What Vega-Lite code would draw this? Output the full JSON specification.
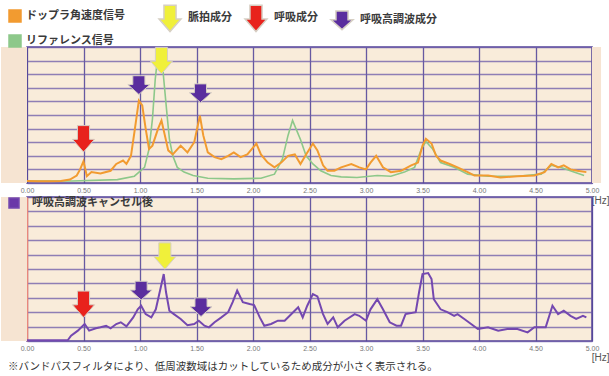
{
  "$schema": "https://vega.github.io/schema/vega-lite/v6.json",
  "background": "white",
  "padding": {"left": 0, "top": 5, "right": 0, "bottom": 0},
  "bounds": "flush",
  "spacing": 14,
  "datasets": {
    "orange": [
      {"f":0,"v":0.15,"s":"ドップラ角速度信号"},{"f":0.1,"v":0.12,"s":"ドップラ角速度信号"},{"f":0.2,"v":0.12,"s":"ドップラ角速度信号"},{"f":0.3,"v":0.15,"s":"ドップラ角速度信号"},{"f":0.38,"v":0.25,"s":"ドップラ角速度信号"},{"f":0.44,"v":0.55,"s":"ドップラ角速度信号"},{"f":0.47,"v":1.0,"s":"ドップラ角速度信号"},{"f":0.5,"v":1.6,"s":"ドップラ角速度信号"},{"f":0.53,"v":0.5,"s":"ドップラ角速度信号"},{"f":0.57,"v":0.8,"s":"ドップラ角速度信号"},{"f":0.65,"v":0.7,"s":"ドップラ角速度信号"},{"f":0.74,"v":0.9,"s":"ドップラ角速度信号"},{"f":0.79,"v":1.4,"s":"ドップラ角速度信号"},{"f":0.85,"v":1.65,"s":"ドップラ角速度信号"},{"f":0.88,"v":1.4,"s":"ドップラ角速度信号"},{"f":0.92,"v":2.0,"s":"ドップラ角速度信号"},{"f":0.95,"v":3.7,"s":"ドップラ角速度信号"},{"f":0.99,"v":6.05,"s":"ドップラ角速度信号"},{"f":1.02,"v":5.7,"s":"ドップラ角速度信号"},{"f":1.05,"v":4.0,"s":"ドップラ角速度信号"},{"f":1.08,"v":2.5,"s":"ドップラ角速度信号"},{"f":1.11,"v":2.75,"s":"ドップラ角速度信号"},{"f":1.16,"v":4.0,"s":"ドップラ角速度信号"},{"f":1.19,"v":4.6,"s":"ドップラ角速度信号"},{"f":1.22,"v":3.5,"s":"ドップラ角速度信号"},{"f":1.25,"v":2.4,"s":"ドップラ角速度信号"},{"f":1.29,"v":2.1,"s":"ドップラ角速度信号"},{"f":1.36,"v":2.75,"s":"ドップラ角速度信号"},{"f":1.42,"v":2.25,"s":"ドップラ角速度信号"},{"f":1.48,"v":3.0,"s":"ドップラ角速度信号"},{"f":1.53,"v":4.95,"s":"ドップラ角速度信号"},{"f":1.56,"v":3.5,"s":"ドップラ角速度信号"},{"f":1.6,"v":2.25,"s":"ドップラ角速度信号"},{"f":1.66,"v":1.9,"s":"ドップラ角速度信号"},{"f":1.72,"v":1.75,"s":"ドップラ角速度信号"},{"f":1.78,"v":2.0,"s":"ドップラ角速度信号"},{"f":1.83,"v":2.25,"s":"ドップラ角速度信号"},{"f":1.89,"v":1.9,"s":"ドップラ角速度信号"},{"f":1.95,"v":2.1,"s":"ドップラ角速度信号"},{"f":2.03,"v":2.9,"s":"ドップラ角速度信号"},{"f":2.07,"v":2.1,"s":"ドップラ角速度信号"},{"f":2.13,"v":1.5,"s":"ドップラ角速度信号"},{"f":2.19,"v":1.15,"s":"ドップラ角速度信号"},{"f":2.25,"v":1.5,"s":"ドップラ角速度信号"},{"f":2.31,"v":2.0,"s":"ドップラ角速度信号"},{"f":2.37,"v":2.1,"s":"ドップラ角速度信号"},{"f":2.42,"v":1.4,"s":"ドップラ角速度信号"},{"f":2.47,"v":2.1,"s":"ドップラ角速度信号"},{"f":2.53,"v":2.9,"s":"ドップラ角速度信号"},{"f":2.57,"v":2.4,"s":"ドップラ角速度信号"},{"f":2.62,"v":1.3,"s":"ドップラ角速度信号"},{"f":2.66,"v":0.9,"s":"ドップラ角速度信号"},{"f":2.72,"v":0.9,"s":"ドップラ角速度信号"},{"f":2.78,"v":1.15,"s":"ドップラ角速度信号"},{"f":2.87,"v":1.4,"s":"ドップラ角速度信号"},{"f":2.94,"v":1.15,"s":"ドップラ角速度信号"},{"f":3.0,"v":1.0,"s":"ドップラ角速度信号"},{"f":3.04,"v":1.5,"s":"ドップラ角速度信号"},{"f":3.09,"v":2.0,"s":"ドップラ角速度信号"},{"f":3.15,"v":1.15,"s":"ドップラ角速度信号"},{"f":3.22,"v":0.8,"s":"ドップラ角速度信号"},{"f":3.31,"v":0.9,"s":"ドップラ角速度信号"},{"f":3.4,"v":1.3,"s":"ドップラ角速度信号"},{"f":3.46,"v":1.5,"s":"ドップラ角速度信号"},{"f":3.5,"v":2.75,"s":"ドップラ角速度信号"},{"f":3.53,"v":3.25,"s":"ドップラ角速度信号"},{"f":3.58,"v":2.9,"s":"ドップラ角速度信号"},{"f":3.62,"v":2.0,"s":"ドップラ角速度信号"},{"f":3.66,"v":1.65,"s":"ドップラ角速度信号"},{"f":3.74,"v":1.4,"s":"ドップラ角速度信号"},{"f":3.81,"v":1.15,"s":"ドップラ角速度信号"},{"f":3.9,"v":0.8,"s":"ドップラ角速度信号"},{"f":3.96,"v":0.55,"s":"ドップラ角速度信号"},{"f":4.08,"v":0.55,"s":"ドップラ角速度信号"},{"f":4.19,"v":0.4,"s":"ドップラ角速度信号"},{"f":4.34,"v":0.5,"s":"ドップラ角速度信号"},{"f":4.49,"v":0.55,"s":"ドップラ角速度信号"},{"f":4.58,"v":0.8,"s":"ドップラ角速度信号"},{"f":4.64,"v":1.4,"s":"ドップラ角速度信号"},{"f":4.7,"v":1.15,"s":"ドップラ角速度信号"},{"f":4.75,"v":1.3,"s":"ドップラ角速度信号"},{"f":4.81,"v":1.0,"s":"ドップラ角速度信号"},{"f":4.87,"v":0.9,"s":"ドップラ角速度信号"},{"f":4.95,"v":0.8,"s":"ドップラ角速度信号"}
    ],
    "green": [
      {"f":0,"v":0.15,"s":"リファレンス信号"},{"f":0.4,"v":0.15,"s":"リファレンス信号"},{"f":0.8,"v":0.25,"s":"リファレンス信号"},{"f":0.95,"v":0.5,"s":"リファレンス信号"},{"f":1.04,"v":1.15,"s":"リファレンス信号"},{"f":1.08,"v":2.5,"s":"リファレンス信号"},{"f":1.11,"v":4.7,"s":"リファレンス信号"},{"f":1.135,"v":7.65,"s":"リファレンス信号"},{"f":1.16,"v":9.5,"s":"リファレンス信号"},{"f":1.19,"v":9.6,"s":"リファレンス信号"},{"f":1.21,"v":7.65,"s":"リファレンス信号"},{"f":1.24,"v":4.95,"s":"リファレンス信号"},{"f":1.26,"v":3.25,"s":"リファレンス信号"},{"f":1.29,"v":2.0,"s":"リファレンス信号"},{"f":1.33,"v":1.15,"s":"リファレンス信号"},{"f":1.39,"v":0.8,"s":"リファレンス信号"},{"f":1.47,"v":0.55,"s":"リファレンス信号"},{"f":1.6,"v":0.35,"s":"リファレンス信号"},{"f":1.83,"v":0.3,"s":"リファレンス信号"},{"f":2.07,"v":0.35,"s":"リファレンス信号"},{"f":2.19,"v":0.65,"s":"リファレンス信号"},{"f":2.26,"v":1.75,"s":"リファレンス信号"},{"f":2.31,"v":3.5,"s":"リファレンス信号"},{"f":2.35,"v":4.6,"s":"リファレンス信号"},{"f":2.38,"v":4.0,"s":"リファレンス信号"},{"f":2.42,"v":3.2,"s":"リファレンス信号"},{"f":2.47,"v":2.0,"s":"リファレンス信号"},{"f":2.53,"v":1.4,"s":"リファレンス信号"},{"f":2.6,"v":0.9,"s":"リファレンス信号"},{"f":2.69,"v":0.55,"s":"リファレンス信号"},{"f":2.78,"v":0.45,"s":"リファレンス信号"},{"f":2.92,"v":0.4,"s":"リファレンス信号"},{"f":3.1,"v":0.55,"s":"リファレンス信号"},{"f":3.22,"v":0.5,"s":"リファレンス信号"},{"f":3.34,"v":0.8,"s":"リファレンス信号"},{"f":3.43,"v":1.15,"s":"リファレンス信号"},{"f":3.49,"v":2.5,"s":"リファレンス信号"},{"f":3.53,"v":3.05,"s":"リファレンス信号"},{"f":3.59,"v":2.5,"s":"リファレンス信号"},{"f":3.66,"v":1.5,"s":"リファレンス信号"},{"f":3.78,"v":1.15,"s":"リファレンス信号"},{"f":3.9,"v":0.65,"s":"リファレンス信号"},{"f":4.08,"v":0.5,"s":"リファレンス信号"},{"f":4.34,"v":0.5,"s":"リファレンス信号"},{"f":4.55,"v":0.65,"s":"リファレンス信号"},{"f":4.64,"v":1.3,"s":"リファレンス信号"},{"f":4.72,"v":1.15,"s":"リファレンス信号"},{"f":4.84,"v":0.8,"s":"リファレンス信号"},{"f":4.93,"v":0.55,"s":"リファレンス信号"}
    ],
    "purple": [
      {"f":0,"v":0.05,"s":"呼吸高調波キャンセル後"},{"f":0.36,"v":0.05,"s":"呼吸高調波キャンセル後"},{"f":0.39,"v":0.37,"s":"呼吸高調波キャンセル後"},{"f":0.45,"v":0.72,"s":"呼吸高調波キャンセル後"},{"f":0.51,"v":1.18,"s":"呼吸高調波キャンセル後"},{"f":0.55,"v":0.72,"s":"呼吸高調波キャンセル後"},{"f":0.61,"v":0.88,"s":"呼吸高調波キャンセル後"},{"f":0.65,"v":0.95,"s":"呼吸高調波キャンセル後"},{"f":0.7,"v":1.06,"s":"呼吸高調波キャンセル後"},{"f":0.74,"v":0.88,"s":"呼吸高調波キャンセル後"},{"f":0.79,"v":1.18,"s":"呼吸高調波キャンセル後"},{"f":0.83,"v":1.3,"s":"呼吸高調波キャンセル後"},{"f":0.88,"v":1.02,"s":"呼吸高調波キャンセル後"},{"f":0.94,"v":1.64,"s":"呼吸高調波キャンセル後"},{"f":0.98,"v":2.2,"s":"呼吸高調波キャンセル後"},{"f":1.01,"v":2.45,"s":"呼吸高調波キャンセル後"},{"f":1.05,"v":1.87,"s":"呼吸高調波キャンセル後"},{"f":1.1,"v":1.64,"s":"呼吸高調波キャンセル後"},{"f":1.14,"v":2.2,"s":"呼吸高調波キャンセル後"},{"f":1.18,"v":3.6,"s":"呼吸高調波キャンセル後"},{"f":1.21,"v":4.65,"s":"呼吸高調波キャンセル後"},{"f":1.23,"v":3.4,"s":"呼吸高調波キャンセル後"},{"f":1.26,"v":2.1,"s":"呼吸高調波キャンセル後"},{"f":1.3,"v":1.87,"s":"呼吸高調波キャンセル後"},{"f":1.36,"v":1.53,"s":"呼吸高調波キャンセル後"},{"f":1.42,"v":1.1,"s":"呼吸高調波キャンセル後"},{"f":1.48,"v":1.18,"s":"呼吸高調波キャンセル後"},{"f":1.52,"v":1.41,"s":"呼吸高調波キャンセル後"},{"f":1.57,"v":1.06,"s":"呼吸高調波キャンセル後"},{"f":1.61,"v":0.95,"s":"呼吸高調波キャンセル後"},{"f":1.66,"v":1.3,"s":"呼吸高調波キャンセル後"},{"f":1.72,"v":1.64,"s":"呼吸高調波キャンセル後"},{"f":1.78,"v":2.0,"s":"呼吸高調波キャンセル後"},{"f":1.82,"v":2.7,"s":"呼吸高調波キャンセル後"},{"f":1.86,"v":3.5,"s":"呼吸高調波キャンセル後"},{"f":1.91,"v":2.7,"s":"呼吸高調波キャンセル後"},{"f":1.97,"v":2.57,"s":"呼吸高調波キャンセル後"},{"f":2.01,"v":2.5,"s":"呼吸高調波キャンセル後"},{"f":2.06,"v":1.64,"s":"呼吸高調波キャンセル後"},{"f":2.1,"v":1.06,"s":"呼吸高調波キャンセル後"},{"f":2.16,"v":1.18,"s":"呼吸高調波キャンセル後"},{"f":2.22,"v":1.41,"s":"呼吸高調波キャンセル後"},{"f":2.28,"v":1.41,"s":"呼吸高調波キャンセル後"},{"f":2.34,"v":1.87,"s":"呼吸高調波キャンセル後"},{"f":2.4,"v":2.34,"s":"呼吸高調波キャンセル後"},{"f":2.44,"v":1.64,"s":"呼吸高調波キャンセル後"},{"f":2.48,"v":2.45,"s":"呼吸高調波キャンセル後"},{"f":2.53,"v":3.26,"s":"呼吸高調波キャンセル後"},{"f":2.57,"v":3.1,"s":"呼吸高調波キャンセル後"},{"f":2.62,"v":1.87,"s":"呼吸高調波キャンセル後"},{"f":2.66,"v":1.18,"s":"呼吸高調波キャンセル後"},{"f":2.71,"v":1.64,"s":"呼吸高調波キャンセル後"},{"f":2.75,"v":0.95,"s":"呼吸高調波キャンセル後"},{"f":2.81,"v":1.41,"s":"呼吸高調波キャンセル後"},{"f":2.9,"v":1.87,"s":"呼吸高調波キャンセル後"},{"f":2.94,"v":1.75,"s":"呼吸高調波キャンセル後"},{"f":3.0,"v":1.41,"s":"呼吸高調波キャンセル後"},{"f":3.04,"v":2.2,"s":"呼吸高調波キャンセル後"},{"f":3.1,"v":2.9,"s":"呼吸高調波キャンセル後"},{"f":3.15,"v":2.2,"s":"呼吸高調波キャンセル後"},{"f":3.21,"v":1.3,"s":"呼吸高調波キャンセル後"},{"f":3.27,"v":1.06,"s":"呼吸高調波キャンセル後"},{"f":3.31,"v":1.06,"s":"呼吸高調波キャンセル後"},{"f":3.35,"v":1.87,"s":"呼吸高調波キャンセル後"},{"f":3.44,"v":2.0,"s":"呼吸高調波キャンセル後"},{"f":3.47,"v":3.4,"s":"呼吸高調波キャンセル後"},{"f":3.5,"v":4.65,"s":"呼吸高調波キャンセル後"},{"f":3.55,"v":4.72,"s":"呼吸高調波キャンセル後"},{"f":3.58,"v":4.3,"s":"呼吸高調波キャンセル後"},{"f":3.6,"v":2.9,"s":"呼吸高調波キャンセル後"},{"f":3.66,"v":2.2,"s":"呼吸高調波キャンセル後"},{"f":3.72,"v":2.0,"s":"呼吸高調波キャンセル後"},{"f":3.78,"v":1.75,"s":"呼吸高調波キャンセル後"},{"f":3.81,"v":1.87,"s":"呼吸高調波キャンセル後"},{"f":3.87,"v":1.53,"s":"呼吸高調波キャンセル後"},{"f":3.93,"v":1.18,"s":"呼吸高調波キャンセル後"},{"f":3.99,"v":0.83,"s":"呼吸高調波キャンセル後"},{"f":4.08,"v":0.95,"s":"呼吸高調波キャンセル後"},{"f":4.17,"v":0.72,"s":"呼吸高調波キャンセル後"},{"f":4.25,"v":0.83,"s":"呼吸高調波キャンセル後"},{"f":4.34,"v":0.83,"s":"呼吸高調波キャンセル後"},{"f":4.43,"v":0.6,"s":"呼吸高調波キャンセル後"},{"f":4.49,"v":0.95,"s":"呼吸高調波キャンセル後"},{"f":4.59,"v":0.95,"s":"呼吸高調波キャンセル後"},{"f":4.65,"v":2.45,"s":"呼吸高調波キャンセル後"},{"f":4.7,"v":1.87,"s":"呼吸高調波キャンセル後"},{"f":4.75,"v":2.1,"s":"呼吸高調波キャンセル後"},{"f":4.81,"v":1.75,"s":"呼吸高調波キャンセル後"},{"f":4.86,"v":1.53,"s":"呼吸高調波キャンセル後"},{"f":4.92,"v":1.75,"s":"呼吸高調波キャンセル後"},{"f":4.95,"v":1.64,"s":"呼吸高調波キャンセル後"}
    ],
    "arrowsTop": [
      {"f":0.5,"v":3.25,"c":"呼吸成分"},
      {"f":0.99,"v":7.2,"c":"呼吸高調波成分"},
      {"f":1.19,"v":9.0,"c":"脈拍成分"},
      {"f":1.535,"v":6.6,"c":"呼吸高調波成分"}
    ],
    "arrowsBottom": [
      {"f":0.5,"v":2.55,"c":"呼吸成分"},
      {"f":1.01,"v":3.5,"c":"呼吸高調波成分"},
      {"f":1.22,"v":5.9,"c":"脈拍成分"},
      {"f":1.54,"v":2.35,"c":"呼吸高調波成分"}
    ]
  },
  "vconcat": [
    {
      "width": 565,
      "height": 136,
      "layer": [
        {
          "data": {"values": [{}]},
          "mark": {"type": "rect", "fill": "#f6e4d2", "clip": false},
          "encoding": {
            "x": {"datum": -0.2301, "type": "quantitative", "scale": {"domain": [0, 5], "nice": false, "zero": false},
              "axis": {"values": [0, 0.5, 1, 1.5, 2, 2.5, 3, 3.5, 4, 4.5, 5], "tickCount": 20, "format": ".2f", "grid": true, "labelFlush": false, "labelOverlap": false, "title": "[Hz]", "titleX": 582, "titleY": 17, "titleAlign": "right", "titleBaseline": "middle"}},
            "x2": {"datum": 0},
            "y": {"datum": 0, "type": "quantitative", "scale": {"domain": [0, 10], "nice": false, "zero": false},
              "axis": {"values": [0, 1, 2, 3, 4, 5, 6, 7, 8, 9, 10], "tickCount": 20, "labels": false, "ticks": false, "domain": false, "grid": true, "gridColor": "#6a5aa8", "gridOpacity": 0.75, "title": null}},
            "y2": {"datum": 10}
          }
        },
        {
          "data": {"values": [{}]},
          "mark": {"type": "rect", "fill": "#f6e4d2", "clip": false},
          "encoding": {
            "x": {"datum": 5, "type": "quantitative", "scale": {"domain": [0, 5], "nice": false, "zero": false}},
            "x2": {"datum": 5.08},
            "y": {"datum": 0, "type": "quantitative", "scale": {"domain": [0, 10], "nice": false, "zero": false}},
            "y2": {"datum": 10}
          }
        },
        {
          "layer": [
            {
              "data": {"name": "green"},
              "mark": {"type": "line", "strokeWidth": 1.6},
              "encoding": {
                "x": {"field": "f", "type": "quantitative", "scale": {"domain": [0, 5], "nice": false, "zero": false},
                  "axis": {"values": [0, 0.5, 1, 1.5, 2, 2.5, 3, 3.5, 4, 4.5, 5], "tickCount": 20, "format": ".2f", "grid": true, "labelFlush": false, "labelOverlap": false, "title": "[Hz]", "titleX": 582, "titleY": 17, "titleAlign": "right", "titleBaseline": "middle"}},
                "y": {"field": "v", "type": "quantitative", "scale": {"domain": [0, 10], "nice": false, "zero": false},
                  "axis": {"values": [0, 1, 2, 3, 4, 5, 6, 7, 8, 9, 10], "tickCount": 20, "labels": false, "ticks": false, "domain": false, "grid": true, "gridColor": "#6a5aa8", "gridOpacity": 0.75, "title": null}},
                "color": {"field": "s", "type": "nominal",
                  "scale": {"domain": ["ドップラ角速度信号", "リファレンス信号"], "range": ["#f29b30", "#8dc88a"]},
                  "legend": {"title": null, "orient": "none", "legendX": -19, "legendY": -38, "direction": "vertical", "symbolType": "square", "symbolSize": 144, "rowPadding": 7, "labelOffset": 4,
                    "encode": {"symbols": {"update": {"fill": {"signal": "datum.value === 'ドップラ角速度信号' ? '#f29b30' : '#8dc88a'"}, "stroke": {"value": "transparent"}}}}}
                }
              }
            },
            {
              "data": {"name": "orange"},
              "mark": {"type": "line", "strokeWidth": 2},
              "encoding": {
                "x": {"field": "f", "type": "quantitative", "scale": {"domain": [0, 5], "nice": false, "zero": false}},
                "y": {"field": "v", "type": "quantitative", "scale": {"domain": [0, 10], "nice": false, "zero": false}},
                "color": {"field": "s", "type": "nominal",
                  "scale": {"domain": ["ドップラ角速度信号", "リファレンス信号"], "range": ["#f29b30", "#8dc88a"]}}
              }
            }
          ]
        },
        {
          "data": {"name": "arrowsTop"},
          "mark": {"type": "point", "filled": true, "opacity": 1, "size": 484, "stroke": "#d6cfc4", "strokeWidth": 1},
          "encoding": {
            "x": {"field": "f", "type": "quantitative", "scale": {"domain": [0, 5], "nice": false, "zero": false}},
            "y": {"field": "v", "type": "quantitative", "scale": {"domain": [0, 10], "nice": false, "zero": false}},
            "color": {"field": "c", "type": "nominal",
              "scale": {"domain": ["脈拍成分", "呼吸成分", "呼吸高調波成分"], "range": ["#f0f03a", "#e8221c", "#5a2d9e"]},
              "legend": {"title": null, "orient": "none", "legendX": 131, "legendY": -41, "direction": "horizontal", "symbolSize": 484, "columnPadding": 10, "labelOffset": 6}},
            "shape": {"field": "c", "type": "nominal",
              "scale": {"domain": ["脈拍成分", "呼吸成分", "呼吸高調波成分"],
                "range": ["M-0.55,-1.2L0.55,-1.2L0.55,0.05L1,0.05L0,1.2L-1,0.05L-0.55,0.05Z", "M-0.55,-1.2L0.55,-1.2L0.55,0.05L1,0.05L0,1.2L-1,0.05L-0.55,0.05Z", "M-0.55,-0.85L0.55,-0.85L0.55,-0.05L1,-0.05L0,0.85L-1,-0.05L-0.55,-0.05Z"]},
              "legend": {"title": null, "orient": "none", "legendX": 131, "legendY": -41, "direction": "horizontal", "symbolSize": 484, "columnPadding": 10, "labelOffset": 6}}
          }
        }
      ],
      "resolve": {"scale": {"color": "independent", "shape": "independent"}, "legend": {"color": "independent", "shape": "independent"}}
    },
    {
      "width": 565,
      "height": 144,
      "title": {"text": "※バンドパスフィルタにより、低周波数域はカットしているため成分が小さく表示される。", "orient": "bottom", "anchor": "start", "frame": "group", "dx": -19, "offset": 0, "font": "Noto Sans CJK JP", "fontSize": 10.5, "fontWeight": "normal", "color": "#333333"},
      "layer": [
        {
          "data": {"values": [{}]},
          "mark": {"type": "rect", "fill": "#f6e4d2", "clip": false},
          "encoding": {
            "x": {"datum": -0.2301, "type": "quantitative", "scale": {"domain": [0, 5], "nice": false, "zero": false},
              "axis": {"values": [0, 0.5, 1, 1.5, 2, 2.5, 3, 3.5, 4, 4.5, 5], "tickCount": 20, "format": ".2f", "grid": true, "labelFlush": false, "labelOverlap": false, "title": "[Hz]", "titleX": 582, "titleY": 16, "titleAlign": "right", "titleBaseline": "middle"}},
            "x2": {"datum": 0},
            "y": {"datum": 0, "type": "quantitative", "scale": {"domain": [0, 10], "nice": false, "zero": false},
              "axis": {"values": [0, 1, 2, 3, 4, 5, 6, 7, 8, 9, 10], "tickCount": 20, "labels": false, "ticks": false, "domain": true, "domainColor": "#e9877c", "domainWidth": 1.5, "grid": true, "gridColor": "#6a5aa8", "gridOpacity": 0.75, "title": null}},
            "y2": {"datum": 10}
          }
        },
        {
          "data": {"name": "purple"},
          "mark": {"type": "line", "strokeWidth": 2},
          "encoding": {
            "x": {"field": "f", "type": "quantitative", "scale": {"domain": [0, 5], "nice": false, "zero": false},
              "axis": {"values": [0, 0.5, 1, 1.5, 2, 2.5, 3, 3.5, 4, 4.5, 5], "tickCount": 20, "format": ".2f", "grid": true, "labelFlush": false, "labelOverlap": false, "title": "[Hz]", "titleX": 582, "titleY": 16, "titleAlign": "right", "titleBaseline": "middle"}},
            "y": {"field": "v", "type": "quantitative", "scale": {"domain": [0, 10], "nice": false, "zero": false},
              "axis": {"values": [0, 1, 2, 3, 4, 5, 6, 7, 8, 9, 10], "tickCount": 20, "labels": false, "ticks": false, "domain": true, "domainColor": "#e9877c", "domainWidth": 1.5, "grid": true, "gridColor": "#6a5aa8", "gridOpacity": 0.75, "title": null}},
            "color": {"field": "s", "type": "nominal",
              "scale": {"domain": ["呼吸高調波キャンセル後"], "range": ["#7448b0"]},
              "legend": {"title": null, "orient": "none", "legendX": -19, "legendY": 0, "symbolType": "square", "symbolSize": 100, "labelOffset": 12,
                "encode": {"symbols": {"update": {"fill": {"value": "#6a38a8"}, "stroke": {"value": "transparent"}}}}}
            }
          }
        },
        {
          "data": {"name": "arrowsBottom"},
          "mark": {"type": "point", "filled": true, "opacity": 1, "size": 484, "stroke": "#d6cfc4", "strokeWidth": 1},
          "encoding": {
            "x": {"field": "f", "type": "quantitative", "scale": {"domain": [0, 5], "nice": false, "zero": false}},
            "y": {"field": "v", "type": "quantitative", "scale": {"domain": [0, 10], "nice": false, "zero": false}},
            "color": {"field": "c", "type": "nominal",
              "scale": {"domain": ["脈拍成分", "呼吸成分", "呼吸高調波成分"], "range": ["#f0f03a", "#e8221c", "#5a2d9e"]},
              "legend": null},
            "shape": {"field": "c", "type": "nominal",
              "scale": {"domain": ["脈拍成分", "呼吸成分", "呼吸高調波成分"],
                "range": ["M-0.55,-1.2L0.55,-1.2L0.55,0.05L1,0.05L0,1.2L-1,0.05L-0.55,0.05Z", "M-0.55,-1.2L0.55,-1.2L0.55,0.05L1,0.05L0,1.2L-1,0.05L-0.55,0.05Z", "M-0.55,-0.85L0.55,-0.85L0.55,-0.05L1,-0.05L0,0.85L-1,-0.05L-0.55,-0.05Z"]},
              "legend": null}
          }
        }
      ],
      "resolve": {"scale": {"color": "independent", "shape": "independent"}, "legend": {"color": "independent", "shape": "independent"}}
    }
  ],
  "resolve": {"scale": {"color": "independent", "shape": "independent"}, "legend": {"color": "independent", "shape": "independent"}},
  "config": {
    "view": {"fill": "#f9ecda", "stroke": "#5a4a9c", "strokeWidth": 1.5},
    "axis": {"gridColor": "#4e3f96", "gridWidth": 1.3, "gridOpacity": 0.85, "ticks": false, "domain": false, "labelPadding": 3, "labelFont": "Liberation Sans", "labelFontSize": 7, "labelColor": "#777777", "titleFont": "Liberation Sans", "titleFontSize": 10, "titleFontWeight": "normal", "titleColor": "#555555"},
    "legend": {"labelFont": "Noto Sans CJK JP", "labelFontSize": 11, "labelFontWeight": "bold", "labelColor": "#3a3a3a", "padding": 0, "labelLimit": 300}
  }
}
